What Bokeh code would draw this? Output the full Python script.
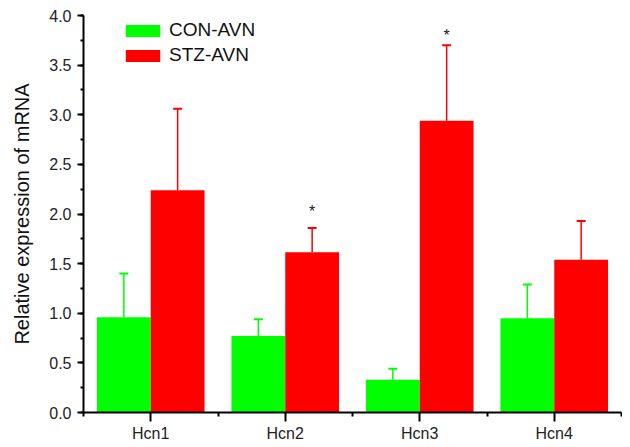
import numpy as np
from bokeh.plotting import figure
from bokeh.models import (ColumnDataSource, Range1d, FixedTicker, SingleIntervalTicker,
                          NumeralTickFormatter, Whisker, TeeHead, Legend, LegendItem)
from bokeh.core.properties import value
from bokeh.embed import file_html
from bokeh.resources import INLINE

categories = ["Hcn1", "Hcn2", "Hcn3", "Hcn4"]
con_mean = [0.96, 0.77, 0.33, 0.95]
con_err = [0.44, 0.17, 0.11, 0.34]
stz_mean = [2.24, 1.615, 2.94, 1.54]
stz_err = [0.82, 0.245, 0.76, 0.39]
star_cats = ["Hcn2", "Hcn3"]
star_y = [2.12, 3.89]
y_ticks_interval = 0.5

GREEN = "#00FF00"
RED = "#FF0000"
FONT = "Liberation Sans"
BAR_W = 0.4

pos = np.arange(1, len(categories) + 1, dtype=float)
con_x = pos - BAR_W / 2
stz_x = pos + BAR_W / 2

con_src = ColumnDataSource(dict(x=con_x, top=con_mean,
                                hi=np.array(con_mean) + np.array(con_err)))
stz_src = ColumnDataSource(dict(x=stz_x, top=stz_mean,
                                hi=np.array(stz_mean) + np.array(stz_err)))

p = figure(width=622, height=447, output_backend="svg", toolbar_location=None,
           x_range=Range1d(0.5, 4.5), y_range=Range1d(0, 4.0),
           min_border_left=83, min_border_right=1, min_border_top=15, min_border_bottom=35)
p.outline_line_color = None
p.xgrid.grid_line_color = None
p.ygrid.grid_line_color = None
p.background_fill_color = "white"

r_con = p.vbar(x="x", top="top", width=BAR_W, source=con_src, fill_color=GREEN, line_color=None)
r_stz = p.vbar(x="x", top="top", width=BAR_W, source=stz_src, fill_color=RED, line_color=None)

for src, col in ((con_src, GREEN), (stz_src, RED)):
    w = Whisker(base="x", lower="top", upper="hi", source=src, line_color=col, line_width=1.5,
                upper_head=TeeHead(size=9, line_color=col, line_width=2), lower_head=None)
    p.add_layout(w)

# significance stars
star_x = [stz_x[categories.index(c)] for c in star_cats]
p.text(star_x, star_y, text=["*"] * len(star_x), text_font=value(FONT), text_font_size="16px",
       text_color="#222222", text_align="center", text_baseline="alphabetic", y_offset=9)

# axes
xa = p.xaxis[0]
xa.ticker = FixedTicker(ticks=list(pos), minor_ticks=list(np.arange(0.5, 4.51, 1.0)))
xa.major_label_overrides = {float(v): c for v, c in zip(pos, categories)}
xa.major_label_overrides.update({int(v): c for v, c in zip(pos, categories)})
ya = p.yaxis[0]
ya.ticker = SingleIntervalTicker(interval=y_ticks_interval, num_minor_ticks=2)
ya.formatter = NumeralTickFormatter(format="0.0")
ya.axis_label = "Relative expression of mRNA"

for ax in (xa, ya):
    ax.axis_line_width = 2
    ax.axis_line_color = "black"
    ax.major_tick_line_width = 2
    ax.minor_tick_line_width = 2
    ax.major_tick_in = 0
    ax.minor_tick_in = 0
    ax.major_label_text_font = FONT
    ax.major_label_text_color = "#222222"
    ax.major_label_text_font_size = "16px"
    ax.axis_label_text_font = FONT
    ax.axis_label_text_font_style = "normal"
    ax.axis_label_text_color = "#111111"
    ax.axis_label_text_font_size = "20px"

xa.major_tick_out = 9
xa.minor_tick_out = 4
xa.major_label_standoff = 3
ya.major_tick_out = 6
ya.minor_tick_out = 3
ya.major_label_standoff = 6
ya.axis_label_standoff = 13

legend = Legend(items=[LegendItem(label="CON-AVN", renderers=[r_con]),
                       LegendItem(label="STZ-AVN", renderers=[r_stz])],
                location=(38, 346))
legend.background_fill_alpha = 0
legend.border_line_color = None
legend.padding = 0
legend.margin = 0
legend.spacing = 3
legend.glyph_width = 43
legend.glyph_height = 15
legend.label_height = 20
legend.label_standoff = 5
legend.label_text_font = FONT
legend.label_text_font_size = "19px"
legend.label_text_color = "#111111"
p.add_layout(legend)

open("out.html", "w").write(file_html(p, INLINE))
